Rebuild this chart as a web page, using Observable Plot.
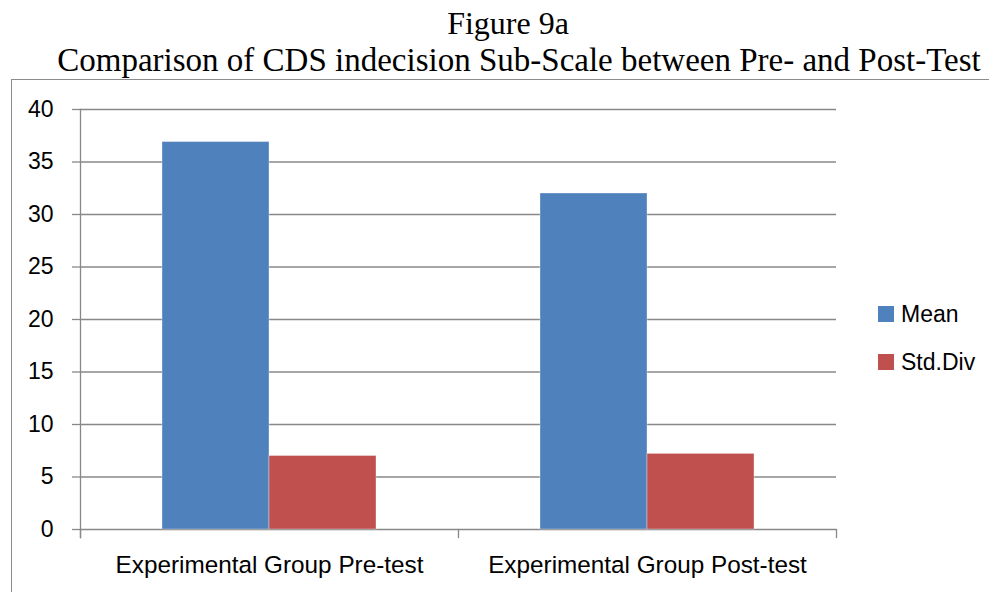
<!DOCTYPE html>
<html>
<head>
<meta charset="utf-8">
<script src="https://cdn.jsdelivr.net/npm/d3@7"></script>
<script src="https://cdn.jsdelivr.net/npm/@observablehq/plot@0.6"></script>
<style>
  html, body { margin: 0; padding: 0; background: #fff; }
  body { width: 989px; height: 592px; position: relative; overflow: hidden; }
  .title { position: absolute; text-align: center;
           font-family: "Liberation Serif", "Times New Roman", serif;
           color: #000; white-space: nowrap; }
  #t1 { left: 308px; width: 400px; top: 7px; font-size: 32px; line-height: 32px; }
  #t2 { left: 19px; width: 1000px; top: 44px; font-size: 33px; line-height: 33px; }
  #chart { position: absolute; left: 0; top: 80px; }
  #box { position: absolute; left: 11px; top: 79px; width: 990px; height: 520px;
         border-left: 1.5px solid #8c8c8c; border-top: 1.5px solid #8c8c8c; pointer-events: none; }
  #legend { position: absolute; left: 878px; top: 298px; font-family: "Liberation Sans", Arial, sans-serif;
            font-size: 23px; color: #000; }
  .item { display: flex; align-items: center; height: 32px; margin-bottom: 16px; }
  .sw { width: 16px; height: 16px; margin-right: 7px; }
</style>
</head>
<body>
<div class="title" id="t1"></div>
<div class="title" id="t2"></div>
<div id="chart"></div>
<div id="legend"></div>
<div id="box"></div>
<script>
// ---- data ----
const titleLines = ["Figure 9a", "Comparison of CDS indecision Sub-Scale between Pre- and Post-Test"];
const categories = ["Experimental Group Pre-test", "Experimental Group Post-test"];
const series = ["Mean", "Std.Div"];
const meanValues = [36.9, 32.0];
const stdValues = [7.0, 7.2];
const yTicks = [0, 5, 10, 15, 20, 25, 30, 35, 40];
const colors = ["#4F81BD", "#C0504D"];

document.getElementById("t1").textContent = titleLines[0];
document.getElementById("t2").textContent = titleLines[1];

const rows = [];
categories.forEach((c, i) => {
  rows.push({group: c, series: series[0], value: meanValues[i]});
  rows.push({group: c, series: series[1], value: stdValues[i]});
});

const W = 989, H = 512, mT = 29, mB = 63, mL = 80, mR = 153;
const frameH = H - mT - mB;
const gray = "#888";

const chart = Plot.plot({
  width: W, height: H,
  marginTop: mT, marginBottom: mB, marginLeft: mL, marginRight: mR,
  style: {fontFamily: "'Liberation Sans', Arial, sans-serif", fontSize: "23px", color: "#000", background: "transparent"},
  fx: {domain: categories, padding: 0, label: null},
  x: {domain: series, paddingInner: 0, paddingOuter: 0.76, axis: null},
  y: {domain: [0, 40], label: null},
  color: {domain: series, range: colors},
  marks: [
    Plot.ruleY(yTicks, {stroke: gray, strokeWidth: 1.3}),
    Plot.barY(rows, {fx: "group", x: "series", y: "value", fill: "series",
                     stroke: "#fff", strokeOpacity: 0.35, strokeWidth: 1}),
    Plot.frame({anchor: "left", facet: "super", insetBottom: -8, stroke: gray, strokeWidth: 1.3}),
    Plot.frame({anchor: "left", insetTop: frameH, insetBottom: -8, stroke: gray, strokeWidth: 1.3}),
    Plot.frame({anchor: "right", facet: "super", insetTop: frameH, insetBottom: -8, stroke: gray, strokeWidth: 1.3}),
    Plot.axisY({ticks: yTicks, tickSize: 8, tickPadding: 19, stroke: gray, strokeWidth: 1.3, fill: "#000", fontSize: 23, label: null, strokeOpacity: 1}),
    Plot.axisFx({anchor: "bottom", tickSize: 0, tickPadding: 26, fontSize: 24.3, fill: "#000", label: null})
  ]
});
document.getElementById("chart").appendChild(chart);

const legend = document.getElementById("legend");
series.forEach((s, i) => {
  const item = document.createElement("div");
  item.className = "item";
  const sw = document.createElement("div");
  sw.className = "sw";
  sw.style.background = colors[i];
  const label = document.createElement("span");
  label.textContent = s;
  item.appendChild(sw);
  item.appendChild(label);
  legend.appendChild(item);
});
</script>
</body>
</html>
